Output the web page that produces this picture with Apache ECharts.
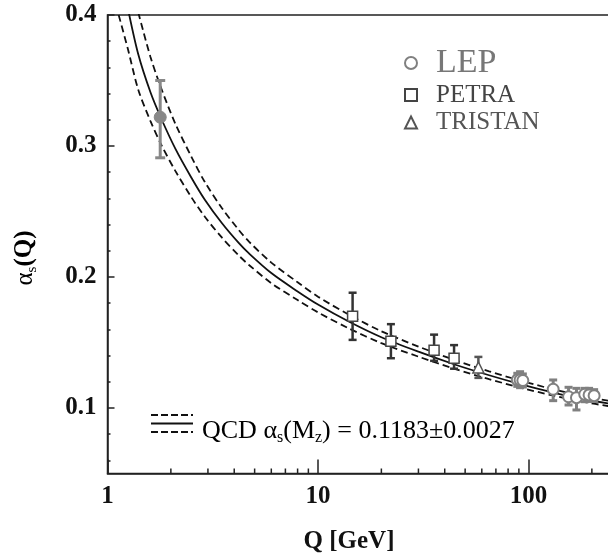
<!DOCTYPE html>
<html><head><meta charset="utf-8">
<script src="https://cdn.jsdelivr.net/npm/echarts@6/dist/echarts.min.js"></script>
<style>html,body{margin:0;padding:0;background:#fff}#c{width:608px;height:557px}</style>
</head><body><div id="c"></div>
<script>
// ---- data ----
const tauQ = [1.78], tauA = [0.322], tauLo = [0.291], tauHi = [0.350];
const petraQ = [14.6, 22.2, 35.6, 44.3];
const petraA = [0.170, 0.151, 0.144, 0.138];
const petraLo = [0.152, 0.138, 0.136, 0.130];
const petraHi = [0.188, 0.164, 0.156, 0.148];
const tristanQ = [57.8], tristanA = [0.131], tristanLo = [0.123], tristanHi = [0.139];
const lepQ  = [88.5, 91.2, 94, 131, 155, 169, 185, 194, 205];
const lepA  = [0.1215, 0.1214, 0.1210, 0.1143, 0.1086, 0.1079, 0.1105, 0.1100, 0.1094];
const lepLo = [0.1165, 0.1155, 0.1160, 0.1056, 0.1023, 0.0985, 0.1048, 0.1050, 0.1050];
const lepHi = [0.1265, 0.1277, 0.1260, 0.1214, 0.1158, 0.1150, 0.1150, 0.1150, 0.1140];

const centralQ = [1.25, 1.4, 1.6, 1.8, 2.1, 2.5, 2.9, 3.5, 4.2, 4.7, 6, 8, 10, 14, 20, 30, 45, 65, 91.2, 130, 180, 250];
const centralA = [0.405, 0.370, 0.341, 0.321, 0.298, 0.276, 0.259, 0.241, 0.226, 0.218, 0.203, 0.189, 0.179, 0.166, 0.154, 0.143, 0.133, 0.125, 0.1183, 0.112, 0.107, 0.103];
const upperQ = [1.4, 1.6, 1.8, 2.1, 2.5, 2.9, 3.5, 4.2, 4.7, 6, 8, 10, 14, 20, 30, 45, 65, 91.2, 130, 180, 250];
const upperA = [0.402, 0.368, 0.344, 0.317, 0.292, 0.2725, 0.2525, 0.236, 0.227, 0.211, 0.196, 0.185, 0.1713, 0.1586, 0.1469, 0.1364, 0.128, 0.121, 0.1144, 0.1092, 0.105];
const lowerQ = [1.13, 1.25, 1.4, 1.6, 1.8, 2.1, 2.5, 2.9, 3.5, 4.2, 4.7, 6, 8, 10, 14, 20, 30, 45, 65, 91.2, 130, 180, 250];
const lowerA = [0.400, 0.374, 0.343, 0.319, 0.301, 0.281, 0.261, 0.246, 0.230, 0.2165, 0.2092, 0.1953, 0.1824, 0.173, 0.1608, 0.1495, 0.1392, 0.1297, 0.122, 0.1156, 0.1096, 0.1048, 0.101];

const yMajor = [0.1, 0.2, 0.3, 0.4];
const yMinor = [0.06, 0.08, 0.12, 0.14, 0.16, 0.18, 0.22, 0.24, 0.26, 0.28, 0.32, 0.34, 0.36, 0.38];
const xMinor = [2, 3, 4, 5, 6, 7, 8, 9, 20, 30, 40, 50, 60, 70, 80, 90, 200];

const FONT = 'Liberation Serif';
const zip = (a, b) => a.map((v, i) => [v, b[i]]);
const zip3 = (a, b, c) => a.map((v, i) => [v, b[i], c[i]]);

function errBars(name, q, lo, hi, color, w, cap) {
  return {
    type: 'custom', name: name, z: 3, silent: true,
    data: zip3(q, lo, hi),
    encode: { x: 0, y: [1, 2] },
    renderItem: function (params, api) {
      const x = api.value(0);
      const p1 = api.coord([x, api.value(1)]);
      const p2 = api.coord([x, api.value(2)]);
      const st = { stroke: color, lineWidth: w };
      return { type: 'group', children: [
        { type: 'line', shape: { x1: p1[0], y1: p1[1], x2: p2[0], y2: p2[1] }, style: st },
        { type: 'line', shape: { x1: p1[0] - cap, y1: p1[1], x2: p1[0] + cap, y2: p1[1] }, style: st },
        { type: 'line', shape: { x1: p2[0] - cap, y1: p2[1], x2: p2[0] + cap, y2: p2[1] }, style: st }
      ]};
    }
  };
}

const chart = echarts.init(document.getElementById('c'), null, { renderer: 'canvas' });
chart.setOption({
  animation: false,
  backgroundColor: '#fff',
  grid: { left: 107.5, top: 15, right: -131, bottom: 83.5, outerBoundsMode: 'none', containLabel: false,
          show: true, borderColor: '#222', borderWidth: 1.5, backgroundColor: 'transparent' },
  xAxis: {
    type: 'log', logBase: 10, min: 1, max: 1000,
    axisLine: { lineStyle: { color: '#222', width: 1.5 } },
    axisTick: { inside: true, length: 14, lineStyle: { color: '#222', width: 1.5 } },
    axisLabel: { margin: 11, fontFamily: FONT, fontWeight: 'bold', fontSize: 25, color: '#111', formatter: v => String(v) },
    splitLine: { show: false }
  },
  yAxis: [{
    type: 'value', min: 0.05, max: 0.4,
    axisLine: { lineStyle: { color: '#222', width: 1.5 } },
    axisTick: { inside: true, length: 7, customValues: yMajor, lineStyle: { color: '#222', width: 1.5 } },
    axisLabel: { margin: 11, customValues: yMajor, fontFamily: FONT, fontWeight: 'bold', fontSize: 25, color: '#111', formatter: v => v.toFixed(1) },
    splitLine: { show: false }
  }, {
    type: 'value', min: 0.05, max: 0.4, position: 'left', offset: 0,
    axisLine: { show: false },
    axisTick: { inside: true, length: 3, customValues: yMinor, lineStyle: { color: '#222', width: 1.5 } },
    axisLabel: { show: false },
    splitLine: { show: false }
  }],
  legend: {
    orient: 'vertical', left: 399, top: 41, itemWidth: 12, itemHeight: 12, itemGap: 2.5,
    selectedMode: false,
    textStyle: { fontFamily: FONT },
    data: [
      { name: 'LEP', textStyle: { fontSize: 34, color: '#777', padding: [0, 0, 4, 14] } },
      { name: 'PETRA', textStyle: { fontSize: 25, color: '#444', padding: [0, 0, 0, 14] } },
      { name: 'TRISTAN', textStyle: { fontSize: 25, color: '#555', padding: [0, 0, 0, 14] } }
    ]
  },
  graphic: [
    { type: 'text', x: 25, y: 258, rotation: Math.PI / 2, style: {
      text: '{a|α}{s|s}{b|(Q)}', align: 'center', verticalAlign: 'middle',
      rich: {
        a: { fontFamily: FONT, fontSize: 25, color: '#111', lineHeight: 30, verticalAlign: 'middle' },
        s: { fontFamily: FONT, fontSize: 15, color: '#111', lineHeight: 15, verticalAlign: 'bottom' },
        b: { fontFamily: FONT, fontSize: 25, fontWeight: 'bold', color: '#111', lineHeight: 30, verticalAlign: 'middle' }
      } } },
    { type: 'text', x: 349, y: 542, style: { text: 'Q [GeV]', fontFamily: FONT, fontWeight: 'bold', fontSize: 25, fill: '#111', align: 'center', verticalAlign: 'middle' } },
    { type: 'line', shape: { x1: 151, y1: 415, x2: 193, y2: 415 }, style: { stroke: '#111', lineWidth: 2, lineDash: [7, 3] } },
    { type: 'line', shape: { x1: 151, y1: 423.5, x2: 193, y2: 423.5 }, style: { stroke: '#111', lineWidth: 1.8 } },
    { type: 'line', shape: { x1: 151, y1: 432, x2: 193, y2: 432 }, style: { stroke: '#111', lineWidth: 2, lineDash: [7, 3] } },
    { type: 'text', x: 202, y: 431, style: {
      text: '{n|QCD α}{s|s}{n|(M}{s|z}{n|) = 0.1183±0.0027}', verticalAlign: 'middle', align: 'left',
      rich: {
        n: { fontFamily: FONT, fontSize: 26, color: '#111', lineHeight: 30, verticalAlign: 'middle' },
        s: { fontFamily: FONT, fontSize: 16, color: '#111', lineHeight: 15, verticalAlign: 'bottom' }
      } } }
  ],
  series: [
    { type: 'line', name: 'QCD', data: zip(centralQ, centralA), showSymbol: false, smooth: 0.3, z: 2, silent: true,
      lineStyle: { color: '#111', width: 1.8 } },
    { type: 'line', name: 'QCD+', data: zip(upperQ, upperA), showSymbol: false, smooth: 0.3, z: 2, silent: true,
      lineStyle: { color: '#111', width: 1.8, type: [7, 4] } },
    { type: 'line', name: 'QCD-', data: zip(lowerQ, lowerA), showSymbol: false, smooth: 0.3, z: 2, silent: true,
      lineStyle: { color: '#111', width: 1.8, type: [7, 4] } },
    {
      type: 'custom', name: 'xminor', silent: true, z: 3,
      data: xMinor.map(q => [q, 0.05]),
      renderItem: function (params, api) {
        const p = api.coord([api.value(0), api.value(1)]);
        return { type: 'line', shape: { x1: p[0], y1: p[1], x2: p[0], y2: p[1] - 5 }, style: { stroke: '#222', lineWidth: 1.5 } };
      }
    },
    errBars('tauErr', tauQ, tauLo, tauHi, '#888', 3, 5),
    errBars('petraErr', petraQ, petraLo, petraHi, '#333', 2.5, 4),
    errBars('tristanErr', tristanQ, tristanLo, tristanHi, '#555', 2.5, 4),
    errBars('lepErr', lepQ, lepLo, lepHi, '#808080', 3, 4),
    { type: 'scatter', name: 'tau', data: zip(tauQ, tauA), symbol: 'circle', symbolSize: 12, z: 4,
      itemStyle: { color: '#888', borderColor: '#888', borderWidth: 1, opacity: 1 } },
    { type: 'scatter', name: 'PETRA', data: zip(petraQ, petraA), symbol: 'rect', symbolSize: 10, z: 4,
      itemStyle: { color: '#fff', borderColor: '#444', borderWidth: 1.5, opacity: 1 } },
    { type: 'scatter', name: 'TRISTAN', data: zip(tristanQ, tristanA), symbol: 'triangle', symbolSize: 11, z: 4,
      itemStyle: { color: '#fff', borderColor: '#555', borderWidth: 1.5, opacity: 1 } },
    { type: 'scatter', name: 'LEP', data: zip(lepQ, lepA), symbol: 'circle', symbolSize: 11, z: 4,
      itemStyle: { color: '#fff', borderColor: '#808080', borderWidth: 2, opacity: 1 } }
  ]
});
</script></body></html>
